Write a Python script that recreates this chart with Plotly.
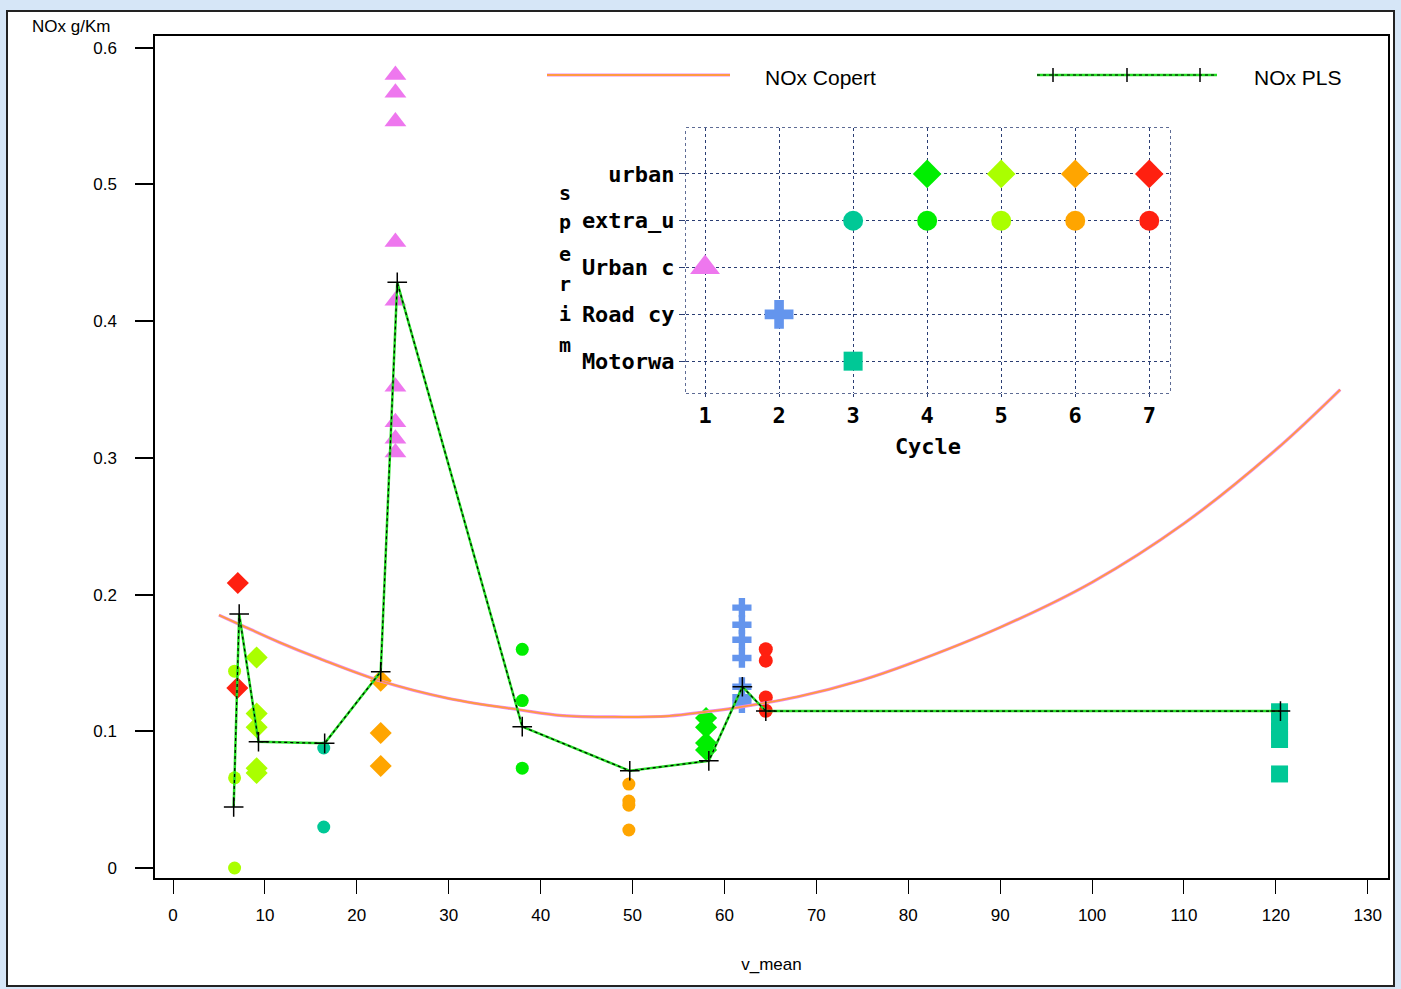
import plotly.graph_objects as go

# ---------------- data ----------------
# measured NOx (g/km) per vehicle mean speed, grouped by test type and cycle
urban7_x = [7.05, 7.0]
urban7_y = [0.2085, 0.1317]
extra5_x = [6.7, 6.7, 6.7]
extra5_y = [0.144, 0.066, 0.0]
urban5_x = [9.1, 9.1, 9.1, 9.1, 9.1]
urban5_y = [0.154, 0.113, 0.103, 0.073, 0.0695]
extra3_x = [16.4, 16.4]
extra3_y = [0.0878, 0.030]
urban6_x = [22.6, 22.6, 22.6]
urban6_y = [0.137, 0.0988, 0.0746]
urbanc1_x = [24.2] * 9
urbanc1_y = [0.580, 0.567, 0.546, 0.458, 0.415, 0.352, 0.326, 0.314, 0.304]
extra4_x = [38.0, 38.0, 38.0]
extra4_y = [0.160, 0.1225, 0.073]
extra6_x = [49.6, 49.6, 49.6, 49.6]
extra6_y = [0.0614, 0.049, 0.046, 0.0278]
urban4_x = [58.0, 58.0, 58.0, 58.0]
urban4_y = [0.1097, 0.103, 0.0914, 0.0863]
road2_x = [61.9] * 7
road2_y = [0.1905, 0.178, 0.167, 0.1536, 0.1326, 0.1249, 0.1205]
extra7_x = [64.5, 64.5, 64.5, 64.5]
extra7_y = [0.160, 0.1517, 0.1248, 0.115]
motor3_x = [120.4] * 5
motor3_y = [0.1143, 0.107, 0.100, 0.094, 0.0688]

# COPERT emission curve
copert_x = [5, 7.3, 11.6, 16, 22.5, 30, 37.8, 42.4, 48, 54, 58, 61, 68, 75, 80, 90, 100, 110, 120, 127]
copert_y = [0.185, 0.178, 0.165, 0.153, 0.137, 0.124, 0.1156, 0.1115, 0.1105, 0.1112, 0.1143,
            0.117, 0.1253, 0.1375, 0.149, 0.176, 0.209, 0.252, 0.306, 0.35]

# PLS model prediction
pls_x = [6.6, 7.2, 9.3, 16.5, 22.6, 24.4, 38.0, 49.7, 58.3, 61.95, 64.5, 120.5]
pls_y = [0.0446, 0.1858, 0.0924, 0.0912, 0.1436, 0.4284, 0.1034, 0.0711, 0.0784, 0.1326, 0.1148, 0.1148]

# key panel: test type (rows) by cycle (columns)
key_rows = ["Motorwa", "Road cy", "Urban c", "extra_u", "urban"]
key_cycles = [1, 2, 3, 4, 5, 6, 7]
key_x = [4, 5, 6, 7, 3, 4, 5, 6, 7, 1, 2, 3]
key_row = [5, 5, 5, 5, 4, 4, 4, 4, 4, 3, 2, 1]

GREEN = "#00EE00"
YGREEN = "#AAFF00"
ORANGE = "#FFA500"
RED = "#FF2010"
TEAL = "#00C896"
VIOLET = "#EE77EE"
BLUE = "#6495ED"

W, H = 1401, 989


def px_x(p):
    return p / W


def px_y(p):
    return 1 - p / H


fig = go.Figure()

groups = [
    (urban7_x, urban7_y, "diamond", RED, 17),
    (extra5_x, extra5_y, "circle", YGREEN, 13),
    (urban5_x, urban5_y, "diamond", YGREEN, 17),
    (extra3_x, extra3_y, "circle", TEAL, 13),
    (urban6_x, urban6_y, "diamond", ORANGE, 17),
    (urbanc1_x, urbanc1_y, "triangle-up", VIOLET, 19),
    (extra4_x, extra4_y, "circle", GREEN, 13),
    (extra6_x, extra6_y, "circle", ORANGE, 13),
    (urban4_x, urban4_y, "diamond", GREEN, 17),
    (road2_x, road2_y, "cross", BLUE, 16),
    (extra7_x, extra7_y, "circle", RED, 14),
    (motor3_x, motor3_y, "square", TEAL, 17),
]
# point markers first, so the curves sit above them
for gx, gy, sym, col, sz in groups:
    fig.add_trace(go.Scatter(x=gx, y=gy, mode="markers",
                             marker=dict(symbol=sym, color=col, size=sz, opacity=1,
                                         line=dict(width=0)),
                             showlegend=False))

# COPERT curve: pink under-stroke with orange line on top
fig.add_trace(go.Scatter(x=copert_x, y=copert_y, mode="lines",
                         line=dict(color="#EE88EE", width=3.2, shape="spline", smoothing=1.0),
                         hoverinfo="skip", showlegend=False))
fig.add_trace(go.Scatter(x=copert_x, y=copert_y, mode="lines",
                         line=dict(color="#FF9A40", width=1.8, shape="spline", smoothing=1.0),
                         name="NOx Copert", showlegend=False))

# PLS polyline: green stroke with black dots and plus markers
fig.add_trace(go.Scatter(x=pls_x, y=pls_y, mode="lines",
                         line=dict(color="#22DD22", width=2.5),
                         hoverinfo="skip", showlegend=False))
fig.add_trace(go.Scatter(x=pls_x, y=pls_y, mode="lines+markers",
                         line=dict(color="#000000", width=1.2, dash="dot"),
                         marker=dict(symbol="cross-thin", size=14,
                                     line=dict(color="#000000", width=1.5)),
                         name="NOx PLS", showlegend=False))

# key panel markers
key_sym = ["diamond"] * 4 + ["circle"] * 5 + ["triangle-up", "cross", "square"]
key_col = [GREEN, YGREEN, ORANGE, RED, TEAL, GREEN, YGREEN, ORANGE, RED, VIOLET, BLUE, TEAL]
key_size = [22] * 4 + [20] * 5 + [26, 24, 19]
fig.add_trace(go.Scatter(x=key_x, y=key_row, mode="markers", xaxis="x2", yaxis="y2",
                         marker=dict(symbol=key_sym, color=key_col, size=key_size, opacity=1,
                                     line=dict(width=0)),
                         showlegend=False))

axis_font = dict(family="Liberation Sans, Arial, sans-serif", size=17, color="#000000")
key_font = dict(family="DejaVu Sans Mono, monospace", size=22, color="#000000", weight="bold")
GRID = "#2A3D73"

fig.update_layout(
    width=W, height=H,
    margin=dict(l=0, r=0, t=0, b=0),
    paper_bgcolor="#D6E6F7",
    plot_bgcolor="#FFFFFF",
    showlegend=False,
    xaxis=dict(domain=[px_x(155), px_x(1388)], range=[-1.96, 132.2],
               tickvals=list(range(0, 131, 10)), ticks="outside", ticklen=14, tickwidth=1,
               tickcolor="#000", ticklabelstandoff=7, showgrid=False, zeroline=False,
               showline=True, linecolor="#000", linewidth=1.5, mirror=True,
               tickfont=axis_font,
               title=dict(text="v_mean", font=axis_font, standoff=34)),
    yaxis=dict(domain=[px_y(878), px_y(36)], range=[-0.0073, 0.6086],
               tickvals=[0, 0.1, 0.2, 0.3, 0.4, 0.5, 0.6],
               ticktext=["0", "0.1", "0.2", "0.3", "0.4", "0.5", "0.6"],
               ticks="outside", ticklen=18, tickwidth=1.5, tickcolor="#000",
               ticklabelstandoff=15, showgrid=False, zeroline=False,
               showline=True, linecolor="#000", linewidth=1.5, mirror=True,
               tickfont=axis_font),
    xaxis2=dict(domain=[px_x(686), px_x(1170)], range=[0.743, 7.28], anchor="y2",
                tickvals=key_cycles, ticks="outside", ticklen=3, tickcolor=GRID,
                ticklabelstandoff=0, showgrid=True, gridcolor=GRID, griddash="dot", gridwidth=1.2,
                zeroline=False, showline=False, tickfont=key_font,
                title=dict(text="Cycle", font=key_font, standoff=11)),
    yaxis2=dict(domain=[px_y(393), px_y(128)], range=[0.32, 5.98], anchor="x2",
                tickvals=[1, 2, 3, 4, 5], ticktext=key_rows,
                ticks="outside", ticklen=6, tickcolor=GRID, ticklabelstandoff=0,
                showgrid=True, gridcolor=GRID, griddash="dot", gridwidth=1.2,
                zeroline=False, showline=False, tickfont=key_font),
)

shapes = []
# white panel with dark border
shapes.append(dict(type="rect", xref="paper", yref="paper", layer="below",
                   x0=px_x(7), x1=px_x(1394), y0=px_y(986), y1=px_y(11),
                   fillcolor="#FFFFFF", line=dict(color="#222222", width=2)))
# key panel frame
shapes.append(dict(type="rect", xref="x2 domain", yref="y2 domain", layer="below",
                   x0=0, x1=1, y0=0, y1=1,
                   line=dict(color=GRID, width=1.5, dash="dot")))
# legend samples
ly = px_y(75)
shapes.append(dict(type="line", xref="paper", yref="paper", x0=px_x(547), x1=px_x(730),
                   y0=ly, y1=ly, line=dict(color="#EE88EE", width=3.2)))
shapes.append(dict(type="line", xref="paper", yref="paper", x0=px_x(547), x1=px_x(730),
                   y0=ly, y1=ly, line=dict(color="#FF9A40", width=1.8)))
shapes.append(dict(type="line", xref="paper", yref="paper", x0=px_x(1037), x1=px_x(1217),
                   y0=ly, y1=ly, line=dict(color="#22DD22", width=2.5)))
shapes.append(dict(type="line", xref="paper", yref="paper", x0=px_x(1037), x1=px_x(1217),
                   y0=ly, y1=ly, line=dict(color="#000000", width=1.2, dash="dot")))
for cx in (1053, 1127, 1200):
    shapes.append(dict(type="line", xref="paper", yref="paper", x0=px_x(cx), x1=px_x(cx),
                       y0=px_y(68), y1=px_y(82), line=dict(color="#000000", width=1.5)))
fig.update_layout(shapes=shapes)

legend_font = dict(family="Liberation Sans, Arial, sans-serif", size=21, color="#000000")
annotations = [
    dict(text="NOx Copert", x=px_x(763), y=px_y(77), xref="paper", yref="paper",
         xanchor="left", yanchor="middle", showarrow=False, font=legend_font),
    dict(text="NOx PLS", x=px_x(1252), y=px_y(77), xref="paper", yref="paper",
         xanchor="left", yanchor="middle", showarrow=False, font=legend_font),
    dict(text="NOx g/Km", x=px_x(30), y=px_y(26), xref="paper", yref="paper",
         xanchor="left", yanchor="middle", showarrow=False, font=axis_font),
]
# vertical key-axis title, one letter per line
for ch, yy in zip("sperim", [193, 222, 254, 284, 314, 345]):
    annotations.append(dict(text=ch, x=px_x(565), y=px_y(yy), xref="paper", yref="paper",
                            xanchor="center", yanchor="middle", showarrow=False,
                            font=dict(family="DejaVu Sans Mono, monospace", size=20,
                                      color="#000000", weight="bold")))
fig.update_layout(annotations=annotations)

fig.write_html("out.html")
